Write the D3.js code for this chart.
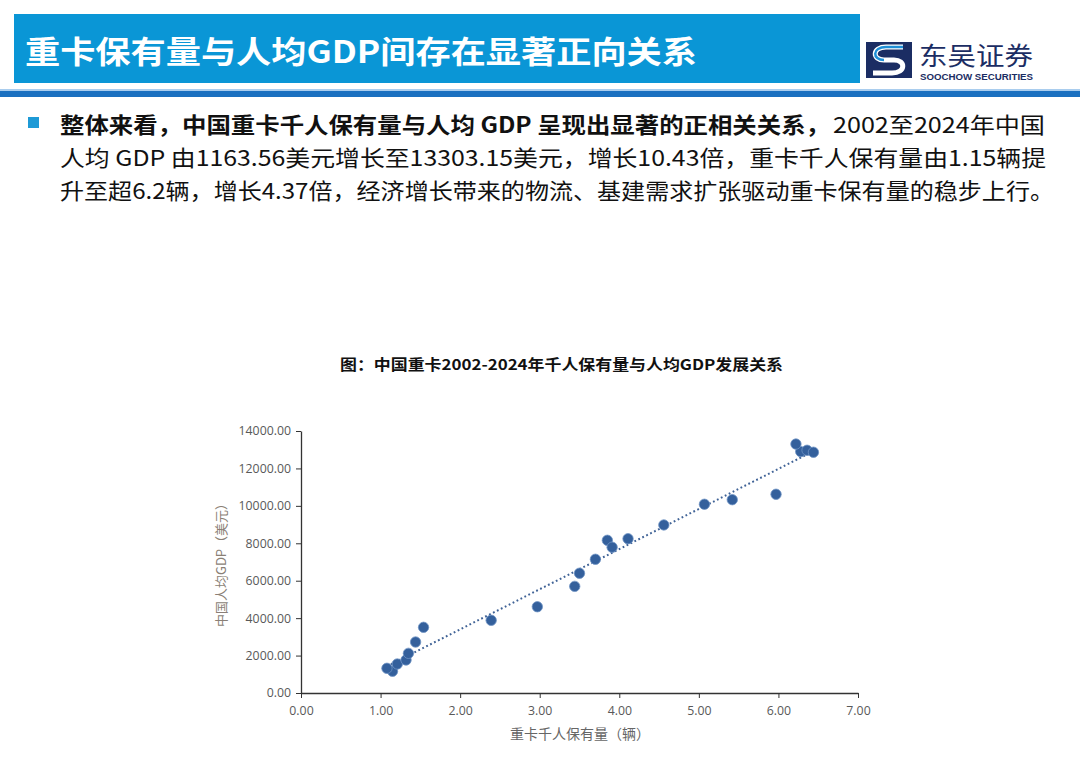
<!DOCTYPE html>
<html>
<head>
<meta charset="utf-8">
<script src="https://cdn.jsdelivr.net/npm/d3@7"></script>
<style>
  body { margin: 0; background: #fff; }
  svg { display: block; }
</style>
</head>
<body>
<script>
const width = 1080
const height = 764

// 重卡千人保有量（辆）, 2002-2024
const trucksPerThousand = [1.15, 1.08, 1.21, 1.32, 1.35, 1.44, 1.54, 2.39, 2.97, 3.44, 3.50, 3.70,
  3.85, 3.91, 4.11, 4.56, 5.07, 5.42, 5.97, 6.28, 6.36, 6.44, 6.22]
// 中国人均GDP（美元）
const gdpPerCapita = [1163.56, 1320, 1550, 1765, 2120, 2725, 3510, 3885, 4610, 5700, 6400, 7145,
  8160, 7790, 8245, 8980, 10085, 10330, 10620, 12900, 12970, 12865, 13303.15]

const xTicks = [0, 1, 2, 3, 4, 5, 6, 7]
const yTicks = [0, 2000, 4000, 6000, 8000, 10000, 12000, 14000]

const points = trucksPerThousand.map((v, i) => ({ x: v, y: gdpPerCapita[i] }))

const cjk = '"Noto Sans CJK SC", "Noto Sans", sans-serif'

const svg = d3.select('body')
  .append('svg')
  .attr('width', width)
  .attr('height', height)

// header
svg.append('rect')
  .attr('x', 14).attr('y', 14)
  .attr('width', 846).attr('height', 69)
  .attr('fill', '#0a96d6')

svg.append('text')
  .attr('x', 25).attr('y', 63)
  .attr('font-family', cjk)
  .attr('font-size', 31)
  .attr('font-weight', 'bold')
  .attr('fill', '#fff')
  .attr('textLength', 672)
  .attr('lengthAdjust', 'spacingAndGlyphs')
  .text('重卡保有量与人均GDP间存在显著正向关系')

// logo
const logo = svg.append('g')
logo.append('rect')
  .attr('x', 866).attr('y', 42)
  .attr('width', 46).attr('height', 36)
  .attr('fill', '#1b2d63')
logo.append('path')
  .attr('d', 'M903,47 L886,47 C872,47 872,60 884,60 L894,60 C906,60 906,73 892,73 L873,73')
  .attr('fill', 'none')
  .attr('stroke', '#fff')
  .attr('stroke-width', 5)
logo.append('path')
  .attr('d', 'M903,47 L886,47 C872,47 872,60 884,60')
  .attr('fill', 'none')
  .attr('stroke', '#1e8fd6')
  .attr('stroke-width', 2.5)
logo.append('text')
  .attr('x', 919).attr('y', 65)
  .attr('font-family', cjk)
  .attr('font-size', 25)
  .attr('fill', '#1b2d63')
  .attr('textLength', 114)
  .attr('lengthAdjust', 'spacingAndGlyphs')
  .text('东吴证券')
logo.append('text')
  .attr('x', 920).attr('y', 80)
  .attr('font-family', '"Liberation Sans", sans-serif')
  .attr('font-size', 8.5)
  .attr('font-weight', 'bold')
  .attr('fill', '#1b2d63')
  .attr('textLength', 113)
  .attr('lengthAdjust', 'spacingAndGlyphs')
  .text('SOOCHOW SECURITIES')

// blue rule
svg.append('rect')
  .attr('x', 0).attr('y', 89)
  .attr('width', width).attr('height', 2)
  .attr('fill', '#a9cdee')
svg.append('rect')
  .attr('x', 0).attr('y', 91)
  .attr('width', width).attr('height', 6)
  .attr('fill', '#1a70c0')

// bullet text
svg.append('rect')
  .attr('x', 28).attr('y', 117)
  .attr('width', 11).attr('height', 11)
  .attr('fill', '#1e9ad6')

const body = [
  { x: 60, y: 133, len: 770, bold: true, t: '整体来看，中国重卡千人保有量与人均 GDP 呈现出显著的正相关关系，' },
  { x: 833, y: 133, len: 212, bold: false, t: '2002至2024年中国' },
  { x: 60, y: 166, len: 986, bold: false, t: '人均 GDP 由1163.56美元增长至13303.15美元，增长10.43倍，重卡千人保有量由1.15辆提' },
  { x: 60, y: 199, len: 994, bold: false, t: '升至超6.2辆，增长4.37倍，经济增长带来的物流、基建需求扩张驱动重卡保有量的稳步上行。' }
]
svg.selectAll('.body')
  .data(body)
  .enter()
  .append('text')
  .attr('class', 'body')
  .attr('x', d => d.x).attr('y', d => d.y)
  .attr('font-family', cjk)
  .attr('font-size', 22)
  .attr('font-weight', d => d.bold ? 'bold' : 'normal')
  .attr('fill', '#111')
  .attr('textLength', d => d.len)
  .attr('lengthAdjust', 'spacingAndGlyphs')
  .text(d => d.t)

// chart title
svg.append('text')
  .attr('x', 340).attr('y', 370)
  .attr('font-family', cjk)
  .attr('font-size', 15)
  .attr('font-weight', 'bold')
  .attr('fill', '#111')
  .attr('textLength', 443)
  .attr('lengthAdjust', 'spacingAndGlyphs')
  .text('图：中国重卡2002-2024年千人保有量与人均GDP发展关系')

// scatter
const xScale = d3.scaleLinear().domain([0, 7]).range([301, 858])
const yScale = d3.scaleLinear().domain([0, 14000]).range([693, 431])

const xAxis = d3.axisBottom(xScale)
  .tickValues(xTicks)
  .tickSize(5)
  .tickSizeOuter(0)
  .tickFormat(d3.format('.2f'))

const yAxis = d3.axisLeft(yScale)
  .tickValues(yTicks)
  .tickSize(5)
  .tickSizeOuter(0)
  .tickFormat(d3.format('.2f'))

const gx = svg.append('g')
  .attr('transform', `translate(0,${yScale(0)})`)
  .call(xAxis)

const gy = svg.append('g')
  .attr('transform', `translate(${xScale(0)},0)`)
  .call(yAxis)

;[gx, gy].forEach(g => {
  g.select('.domain').attr('stroke', '#333').attr('stroke-width', 1.3)
  g.selectAll('.tick line').attr('stroke', '#333')
  g.selectAll('.tick text')
    .attr('fill', '#595959')
    .attr('font-family', '"Open Sans", "Noto Sans", sans-serif')
    .attr('font-size', 12.3)
})
gx.selectAll('.tick text').attr('dy', '1.15em')
gy.selectAll('.tick text').attr('x', -10)

// linear trend line
const mx = d3.mean(points, d => d.x)
const my = d3.mean(points, d => d.y)
const slope = d3.sum(points, d => (d.x - mx) * (d.y - my)) / d3.sum(points, d => (d.x - mx) ** 2)
const intercept = my - slope * mx
const [x0, x1] = d3.extent(points, d => d.x)
const trend = [x0, x1].map(x => ({ x, y: intercept + slope * x }))

svg.append('path')
  .attr('d', d3.line().x(d => xScale(d.x)).y(d => yScale(d.y))(trend))
  .attr('fill', 'none')
  .attr('stroke', '#3f6296')
  .attr('stroke-width', 2)
  .attr('stroke-dasharray', '1.8,2.6')

svg.selectAll('.dot')
  .data(points)
  .enter()
  .append('circle')
  .attr('class', 'dot')
  .attr('cx', d => xScale(d.x))
  .attr('cy', d => yScale(d.y))
  .attr('r', 5.2)
  .attr('fill', '#34609c')
  .attr('stroke', '#6f93c4')
  .attr('stroke-width', 0.8)

// axis titles
svg.append('text')
  .attr('transform', `translate(226,562) rotate(-90)`)
  .attr('text-anchor', 'middle')
  .attr('font-family', cjk)
  .attr('font-size', 13)
  .attr('fill', '#8a7f76')
  .text('中国人均GDP（美元）')

svg.append('text')
  .attr('x', 580).attr('y', 739)
  .attr('text-anchor', 'middle')
  .attr('font-family', cjk)
  .attr('font-size', 14)
  .attr('fill', '#666')
  .text('重卡千人保有量（辆）')
</script>
</body>
</html>
